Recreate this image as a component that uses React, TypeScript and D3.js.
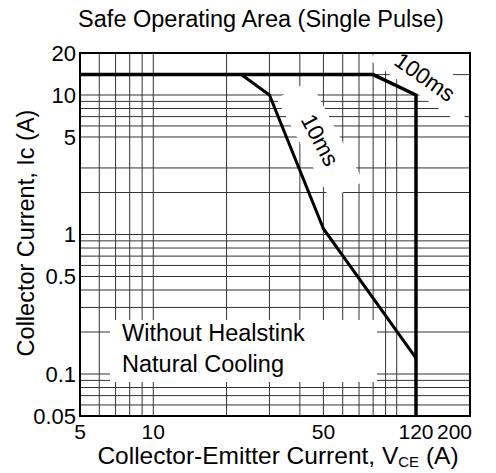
import React from "react";
import * as d3 from "d3";

const xTicks = [5, 10, 50, 120, 200];
const yTicks = [0.05, 0.1, 0.5, 1, 5, 10, 20];
const xGrid = [6, 7, 8, 9, 10, 20, 30, 40, 50, 60, 70, 80, 90, 100];
const yGrid = [0.06, 0.07, 0.08, 0.09, 0.1, 0.2, 0.3, 0.4, 0.5, 0.6, 0.7, 0.8, 0.9, 1, 2, 3, 5, 6, 7, 8, 9, 10, 14];
const curve10ms: [number, number][] = [[5, 14], [23, 14], [30, 10], [50, 1.1], [120, 0.13]];
const curve100ms: [number, number][] = [[5, 14], [80, 14], [120, 10], [120, 0.05]];
const title = "Safe Operating Area (Single Pulse)";
const noteLines = ["Without Healstink", "Natural Cooling"];

const W = 496, H = 473;
const L = 80, R = 470, T = 53, B = 416;
const FONT = "'Liberation Sans', Arial, sans-serif";

export default function App() {
  const x = d3.scaleLog().domain([5, 200]).range([L, R]);
  const y = d3.scaleLog().domain([0.05, 20]).range([B, T]);
  const line = d3.line<[number, number]>().x(d => x(d[0])).y(d => y(d[1]));

  const c10 = { x: 320, y: 140 };
  const c100 = { x: 425, y: 77 };

  return (
    <svg width={W} height={H} style={{ position: "absolute", left: 0, top: 0, background: "#fff" }} fontFamily={FONT}>
      <rect x={0} y={0} width={W} height={H} fill="#fff" />
      <g stroke="#333" strokeWidth={1}>
        {xGrid.map(v => <line key={"x" + v} x1={x(v)} x2={x(v)} y1={T} y2={B} />)}
        {yGrid.map(v => <line key={"y" + v} x1={L} x2={R} y1={y(v)} y2={y(v)} />)}
      </g>
      {/* white masks behind labels */}
      <rect x={110} y={320} width={267} height={62} fill="#fff" />
      <rect x={-57} y={-19} width={114} height={38} fill="#fff" transform={`translate(${c10.x},${c10.y}) rotate(62)`} />
      <rect x={-55} y={-18} width={110} height={36} fill="#fff" transform={`translate(${c100.x},${c100.y}) rotate(35)`} />
      <path d={line(curve100ms) || ""} fill="none" stroke="#000" strokeWidth={3.5} strokeLinejoin="miter" />
      <path d={line(curve10ms) || ""} fill="none" stroke="#000" strokeWidth={3} strokeLinejoin="miter" />
      <rect x={L} y={T} width={R - L} height={B - T} fill="none" stroke="#000" strokeWidth={2} />

      <text x={261} y={27} fontSize={23.5} textAnchor="middle">{title}</text>

      {yTicks.map(v => (
        <text key={"yt" + v} x={L - 4} y={y(v)} dy="0.36em" fontSize={22} textAnchor="end">{String(v)}</text>
      ))}
      {xTicks.map(v => (
        <text key={"xt" + v} x={v === 200 ? R + 2 : x(v)} y={439} fontSize={21} textAnchor={v === 200 ? "end" : "middle"}>{String(v)}</text>
      ))}

      <text x={278} y={464} fontSize={24.5} textAnchor="middle">
        Collector-Emitter Current, V<tspan fontSize={15} dy={3}>CE</tspan><tspan dy={-3}> (A)</tspan>
      </text>
      <text transform={`translate(34,233) rotate(-90)`} fontSize={23.5} textAnchor="middle">Collector Current, Ic (A)</text>

      {noteLines.map((s, i) => (
        <text key={s} x={122} y={341 + i * 31} fontSize={23.5}>{s}</text>
      ))}

      <text transform={`translate(${c10.x},${c10.y}) rotate(62)`} fontSize={22.5} textAnchor="middle" dy="0.35em">10ms</text>
      <text transform={`translate(${c100.x},${c100.y}) rotate(35)`} fontSize={22.5} textAnchor="middle" dy="0.35em">100ms</text>
    </svg>
  );
}
